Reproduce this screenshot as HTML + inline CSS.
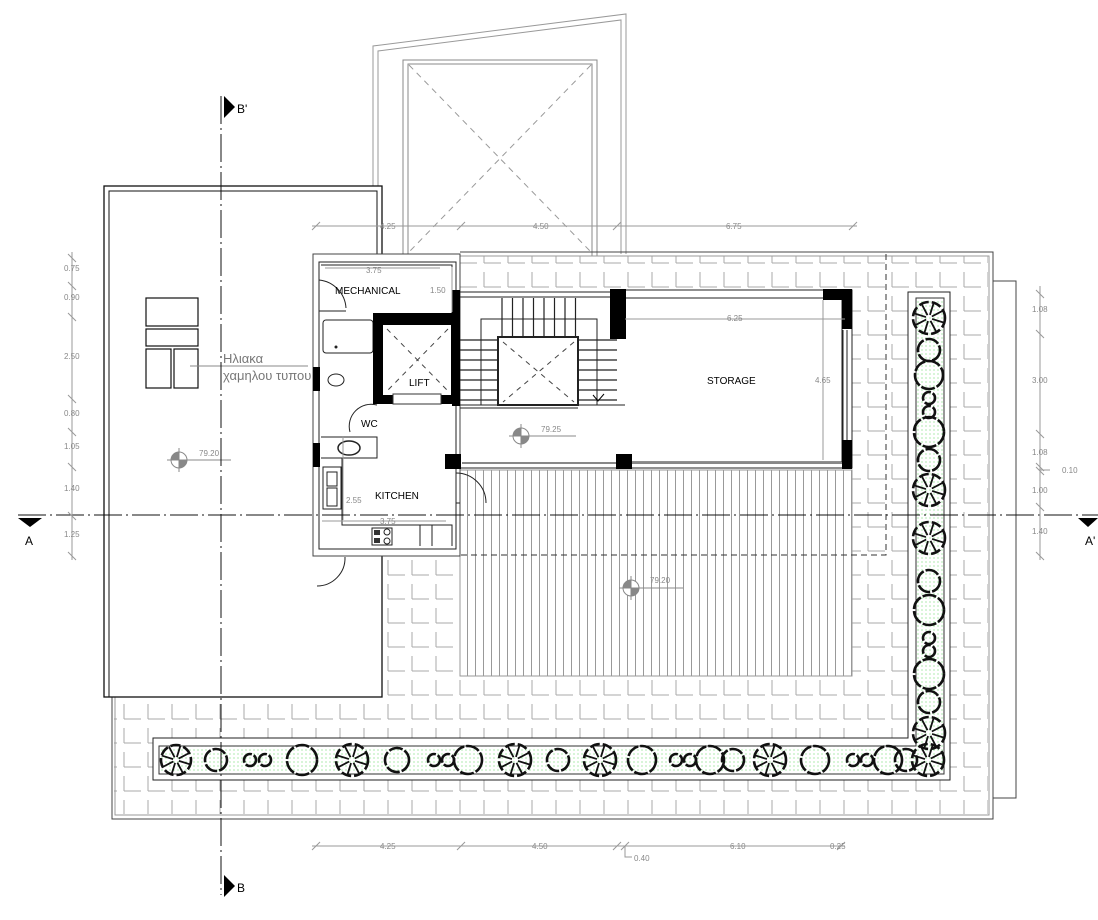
<!DOCTYPE html>
<html><head><meta charset="utf-8"><style>
html,body{margin:0;padding:0;background:#fff;width:1098px;height:920px;overflow:hidden}
svg{display:block}
text{font-family:"Liberation Sans","DejaVu Sans",sans-serif}
.d{font-size:8px;fill:#888}
.l{font-size:10px;fill:#000}
</style></head><body>
<svg id="s" width="1098" height="920" viewBox="0 0 1098 920" xmlns="http://www.w3.org/2000/svg">
<defs>
<pattern id="tile" x="0" y="4" width="24" height="24" patternUnits="userSpaceOnUse">
<path d="M4 4V19M4 19H21" stroke="#aaa" stroke-width="1" fill="none"/>
</pattern>
<pattern id="deck" x="0" y="0" width="8" height="10" patternUnits="userSpaceOnUse">
<path d="M3.5 0V10" stroke="#999" stroke-width="1"/>
</pattern>
<pattern id="dots" width="4" height="4" patternUnits="userSpaceOnUse">
<rect width="4" height="4" fill="#fff"/><circle cx="2" cy="2" r="0.6" fill="#7d7"/>
</pattern>
<clipPath id="terr"><polygon points="460,256 988,256 988,814 114,814 114,697 317,697 317,556 460,556"/></clipPath>
</defs>

<!-- skylight -->
<path d="M373,254V46L626,14V254" fill="none" stroke="#999" stroke-width="1"/>
<path d="M378,254V51L621,20V254" fill="none" stroke="#999" stroke-width="1"/>
<rect x="403" y="60" width="194" height="196" fill="none" stroke="#888"/>
<rect x="408" y="64" width="184" height="192" fill="none" stroke="#888"/>
<path d="M409,65L591,252M591,65L409,252" stroke="#999" stroke-dasharray="6,5"/>

<!-- terrace tiles -->
<g clip-path="url(#terr)"><rect x="100" y="250" width="900" height="570" fill="url(#tile)"/></g>
<rect x="460" y="290" width="392" height="180" fill="#fff"/>
<path d="M112,697V819H993V252H460" fill="none" stroke="#444" stroke-width="1"/>
<path d="M115,697V815H989V256H460" fill="none" stroke="#999" stroke-width="1"/>
<!-- right rect -->
<path d="M993,281H1016V798H993" fill="none" stroke="#444"/>

<!-- deck -->
<rect x="460" y="470" width="392" height="206" fill="#fff"/>
<rect x="460" y="470" width="392" height="206" fill="url(#deck)" stroke="#999"/>
<!-- dashed outline -->
<path d="M886,254V555H460" fill="none" stroke="#333" stroke-dasharray="6,4"/>

<!-- left solar rect -->
<rect x="104" y="186" width="278" height="511" fill="#fff" stroke="#111" stroke-width="1.3"/>
<path d="M109,697V191H377V254" fill="none" stroke="#111"/>
<rect x="146" y="298" width="52" height="28" fill="none" stroke="#111" stroke-width="1.2"/>
<rect x="146" y="329" width="52" height="17" fill="none" stroke="#111" stroke-width="1.2"/>
<rect x="146" y="349" width="25" height="39" fill="none" stroke="#111" stroke-width="1.2"/>
<rect x="174" y="349" width="24" height="39" fill="none" stroke="#111" stroke-width="1.2"/>
<path d="M190,366H308" stroke="#888"/>
<text x="223" y="363" font-size="13" fill="#777">Ηλιακα</text>
<text x="223" y="380" font-size="13" fill="#777">χαμηλου τυπου</text>
<g transform="translate(179,460)"><circle r="8" fill="#fff" stroke="#888"/><path d="M0,0V-8A8,8 0 0 0 -8,0Z M0,0V8A8,8 0 0 0 8,0Z" fill="#888"/><path d="M-12,0H52M0,-12V12" stroke="#888"/></g>
<text x="199" y="456" class="d" font-size="9">79.20</text>

<!-- building -->
<rect x="313" y="254" width="147" height="302" fill="#fff" stroke="#444"/>
<rect x="319" y="262" width="137" height="287" fill="none" stroke="#222"/>
<path d="M319,311H346M319,330V530" stroke="#222"/>
<path d="M319,280A30,30 0 0 1 346,308" fill="none" stroke="#222"/>
<rect x="323" y="320" width="50" height="33" rx="3" fill="none" stroke="#222"/>
<circle cx="336" cy="347" r="1.5" fill="#222"/>
<ellipse cx="336" cy="380" rx="8" ry="6" fill="none" stroke="#222"/>
<rect x="313" y="367" width="7" height="24" fill="#000"/>
<rect x="313" y="443" width="7" height="24" fill="#000"/>
<text x="361" y="427" class="l">WC</text>
<path d="M350,432A22,22 0 0 1 377,405" fill="none" stroke="#222"/>
<path d="M321,437H377V458H321" fill="none" stroke="#222"/>
<ellipse cx="349" cy="448" rx="11" ry="7" fill="none" stroke="#222" stroke-width="1.5"/>
<rect x="323" y="467" width="18" height="42" fill="none" stroke="#222"/>
<rect x="327" y="472" width="10" height="14" fill="none" stroke="#222"/>
<rect x="327" y="488" width="10" height="18" fill="none" stroke="#222"/>
<path d="M342,458V525H452V546" fill="none" stroke="#222"/>
<rect x="372" y="528" width="20" height="17" fill="none" stroke="#222"/>
<circle cx="387" cy="532" r="3" fill="none" stroke="#222"/><circle cx="387" cy="541" r="3" fill="none" stroke="#222"/>
<rect x="374" y="530" width="6" height="5" fill="#333"/><rect x="374" y="538" width="6" height="5" fill="#333"/>
<path d="M420,525V546M432,525V546" stroke="#222"/>
<text x="375" y="499" class="l">KITCHEN</text>
<text x="335" y="294" class="l">MECHANICAL</text>
<path d="M321,265H452V313" fill="none" stroke="#222"/>
<path d="M456,473A30,30 0 0 1 486,503 M456,503H460" fill="none" stroke="#222"/>
<path d="M317,586A28,28 0 0 0 345,557" fill="none" stroke="#222"/>
<!-- lift -->
<rect x="373" y="313" width="86" height="91" fill="#000"/>
<rect x="383" y="325" width="68" height="70" fill="#fff"/>
<path d="M387,329L448,391M448,329L387,391" stroke="#444" stroke-dasharray="5,5"/>
<rect x="393" y="394" width="48" height="10" fill="#fff" stroke="#333"/>
<text x="409" y="386" class="l">LIFT</text>
<rect x="452" y="290" width="8" height="116" fill="#000"/>
<!-- stairs -->
<path d="M460,292H625M460,297H610 M460,405H625 M460,408H578" stroke="#222" fill="none"/>
<g id="stairs" stroke="#222" stroke-width="1.2"></g>
<rect x="481" y="319" width="116" height="86" fill="none" stroke="#222"/>
<rect x="498" y="337" width="80" height="68" fill="#fff" stroke="#222" stroke-width="2"/>
<path d="M503,342L574,402M574,342L503,402" stroke="#444" stroke-dasharray="5,5"/>
<path d="M593,395L598,401L604,394" fill="none" stroke="#000"/>
<rect x="610" y="289" width="16" height="50" fill="#000"/>
<!-- storage -->
<path d="M626,290H852V468H460" fill="none" stroke="#222"/>
<path d="M626,298H842V462H626" fill="none" stroke="#222"/>
<rect x="823" y="289" width="29" height="11" fill="#000"/><rect x="842" y="289" width="10" height="40" fill="#000"/>
<rect x="842" y="440" width="10" height="29" fill="#000"/>
<rect x="445" y="454" width="16" height="15" fill="#000"/><rect x="616" y="454" width="16" height="15" fill="#000"/>
<path d="M462,463H616M632,463H842" stroke="#888" stroke-width="2"/>
<path d="M843,330V440M847,330V440" stroke="#222"/>
<text x="707" y="384" class="l">STORAGE</text>
<path d="M325,268H440M452,267V312M625,319H845M823,300V460M343,436V520M322,521H446" stroke="#999" fill="none"/>
<text x="366" y="273" class="d">3.75</text><text x="430" y="293" class="d">1.50</text>
<text x="727" y="321" class="d">6.25</text><text x="815" y="383" class="d">4.65</text>
<text x="346" y="503" class="d">2.55</text><text x="380" y="524" class="d">3.75</text>
<g transform="translate(521,436)"><circle r="8" fill="#fff" stroke="#888"/><path d="M0,0V-8A8,8 0 0 0 -8,0Z M0,0V8A8,8 0 0 0 8,0Z" fill="#888"/><path d="M-12,0H55M0,-12V12" stroke="#888"/></g>
<text x="541" y="432" class="d" font-size="9">79.25</text>
<g transform="translate(631,588)"><circle r="8" fill="#fff" stroke="#888"/><path d="M0,0V-8A8,8 0 0 0 -8,0Z M0,0V8A8,8 0 0 0 8,0Z" fill="#888"/><path d="M-12,0H52M0,-12V12" stroke="#888"/></g>
<text x="650" y="583" class="d" font-size="9">79.20</text>

<!-- planters -->
<path d="M153,738H908V292H950V780H153Z" fill="#fff" stroke="#222"/>
<path d="M159,746H916V298H944V774H159Z" fill="url(#dots)" stroke="#333"/>
<g id="trees" stroke="#111" stroke-width="2.6" fill="none"></g>

<!-- section lines -->
<path d="M221,96V895" stroke="#111" stroke-dasharray="28,4,2,4"/>
<path d="M18,515H1098" stroke="#111" stroke-dasharray="28,4,2,4"/>
<path d="M224,96L235,107L224,118Z" fill="#000"/><text x="237" y="113" font-size="12">B'</text>
<path d="M224,875L235,886L224,897Z" fill="#000"/><text x="237" y="892" font-size="12">B</text>
<path d="M18,518H42L30,527Z" fill="#000"/><text x="25" y="545" font-size="12">A</text>
<path d="M1078,518H1098L1088,527Z" fill="#000"/><text x="1085" y="545" font-size="12">A'</text>

<g stroke="#999" fill="none">
<path d="M312,226H857M312,230L320,222M457,230L465,222M613,230L621,222M849,230L857,222"/>
<path d="M312,846H845M312,850L320,842M457,850L465,842M613,850L621,842M621,850L629,842M837,850L845,842M625,846V857H632"/>
<path d="M72,252V560M68,254L76,262M68,282L76,290M68,313L76,321M68,395L76,403M68,428L76,436M68,463L76,471M68,512L76,520M68,552L76,560"/>
<path d="M1040,286V560M1036,290L1044,298M1036,330L1044,338M1036,430L1044,438M1036,463L1044,471M1036,467L1044,475M1040,470H1050M1036,503L1044,511M1036,552L1044,560"/>
</g>
<g class="d">
<text x="380" y="229">4.25</text><text x="533" y="229">4.50</text><text x="726" y="229">6.75</text>
<text x="380" y="849">4.25</text><text x="532" y="849">4.50</text><text x="730" y="849">6.10</text><text x="830" y="849">0.25</text><text x="634" y="861">0.40</text>
<text x="64" y="271">0.75</text><text x="64" y="300">0.90</text><text x="64" y="359">2.50</text><text x="64" y="416">0.80</text><text x="64" y="449">1.05</text><text x="64" y="491">1.40</text><text x="64" y="537">1.25</text>
<text x="1032" y="312">1.08</text><text x="1032" y="383">3.00</text><text x="1032" y="455">1.08</text><text x="1062" y="473">0.10</text><text x="1032" y="493">1.00</text><text x="1032" y="534">1.40</text>
</g>
</svg>
<script>
var ns="http://www.w3.org/2000/svg";
function el(p,t,a){var e=document.createElementNS(ns,t);for(var k in a)e.setAttribute(k,a[k]);p.appendChild(e);return e;}
var st=document.getElementById('stairs');
for(var x=502;x<=576;x+=10.5)el(st,'line',{x1:x,y1:298,x2:x,y2:337});
for(var y=340;y<=400;y+=10){el(st,'line',{x1:460,y1:y,x2:498,y2:y});el(st,'line',{x1:578,y1:y,x2:617,y2:y});}
var tg=document.getElementById('trees');
function star(cx,cy,r){el(tg,'circle',{cx:cx,cy:cy,r:r,'stroke-dasharray':'10,3'});for(var i=0;i<8;i++){var a=i*Math.PI/4+0.3;el(tg,'line',{x1:cx+Math.cos(a)*r*0.2,y1:cy+Math.sin(a)*r*0.2,x2:cx+Math.cos(a)*r,y2:cy+Math.sin(a)*r,'stroke-width':1.8});}}
function circ(cx,cy,r){el(tg,'circle',{cx:cx,cy:cy,r:r,'stroke-dasharray':'14,2'});}
var b=[['s',176,15],['c',216,11],['c',250,6],['c',265,6],['c',302,15],['s',352,16],['c',397,12],['c',434,6],['c',448,6],['c',468,14],['s',515,16],['c',558,11],['s',600,16],['c',642,14],['c',676,6],['c',690,6],['c',710,14],['c',733,11],['s',770,16],['c',815,14],['c',853,6],['c',867,6],['c',888,14],['c',906,11],['s',928,16]];
b.forEach(function(t){(t[0]=='s'?star:circ)(t[1],760,t[2]);});
var r=[['s',318,16],['c',350,11],['c',375,14],['c',398,6],['c',412,6],['c',432,15],['c',460,11],['s',490,16],['s',538,16],['c',581,11],['c',610,15],['c',638,6],['c',651,6],['c',674,15],['c',702,11],['s',733,16]];
r.forEach(function(t){(t[0]=='s'?star:circ)(929,t[1],t[2]);});
</script>
</body></html>
